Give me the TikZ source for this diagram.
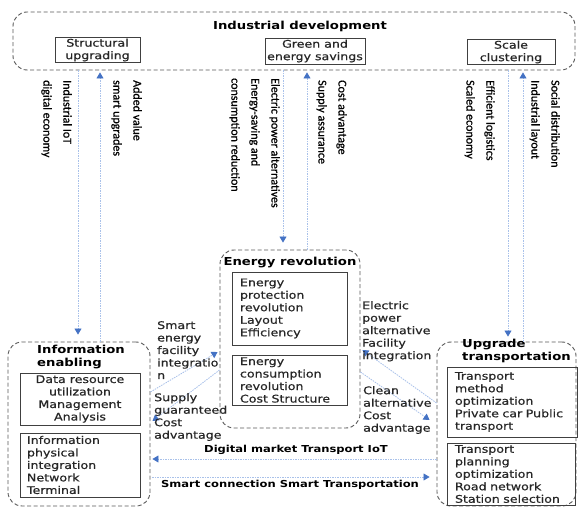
\documentclass[tikz,border=0pt]{standalone}
\usepackage{fontspec}
\setmainfont{DejaVu Sans}[FakeStretch=1.2, UprightFeatures={FakeBold=0.5}]
\newfontfamily\rotfont{Carlito}[FakeBold=0.6]
\usetikzlibrary{arrows.meta,calc}
\definecolor{dotblue}{HTML}{A9C1EA}
\definecolor{tipblue}{HTML}{4472C4}
\definecolor{dgray}{HTML}{595959}
\definecolor{bgray}{HTML}{404040}
\begin{document}
\begin{tikzpicture}[x=1pt,y=-1pt,
  dbox/.style={draw=dgray, dash pattern=on 4pt off 2.5pt, line width=0.9pt, rounded corners=14pt, inner sep=0pt},
  ibox/.style={draw=bgray, line width=0.9pt, inner sep=0pt},
  txt/.style={font=\fontsize{10.5}{12.5}\selectfont, text=black!85, inner sep=0pt, align=left},
  ttl/.style={font=\fontsize{11}{13}\selectfont\bfseries, inner sep=0pt, align=left},
  btl/.style={font=\fontsize{9.6}{11}\selectfont\bfseries, inner sep=0pt},
  rot/.style={font=\rotfont\fontsize{12}{20}\selectfont, rotate=-90, align=left, inner sep=0pt, anchor=north west},
  dl/.style={draw=dotblue, line width=0.8pt, dash pattern=on 1.5pt off 1pt, -{Triangle[color=tipblue,width=7pt,length=6pt]}}
]
\useasboundingbox (0,0) rectangle (578,510);
\fill[white] (0,0) rectangle (578,510);

% top container
\node[dbox, minimum width=562, minimum height=58] (top) at (294,41) {};
\node[ttl] (topt) at (300,26) {Industrial development};
\node[ibox, txt, align=center, minimum width=85, minimum height=25] (struct) at (97.5,50) {Structural\\upgrading};
\node[ibox, txt, align=center, minimum width=100, minimum height=26] (green) at (315,51) {Green and\\energy savings};
\node[ibox, txt, align=center, minimum width=88, minimum height=25] (scale) at (511,52) {Scale\\clustering};

% energy revolution
\node[dbox, minimum width=140, minimum height=178] (energy) at (290,339) {};
\node[ttl] (energyt) at (290,263) {Energy revolution};
\node[ibox, txt, text width=99pt, inner xsep=8pt, minimum height=73] (e1) at (289.5,308.5) {Energy\\protection\\revolution\\Layout\\Efficiency};
\node[ibox, txt, text width=99pt, inner xsep=8pt, minimum height=50] (e2) at (289.5,380) {Energy\\consumption\\revolution\\Cost Structure};

% information enabling
\node[dbox, minimum width=142, minimum height=164] (info) at (79,424) {};
\node[ttl, anchor=north west] (infot) at (37,345) {Information\\enabling};
\node[ibox, txt, align=center, minimum width=120, minimum height=52] (i1) at (80,399) {Data resource\\utilization\\Management\\Analysis};
\node[ibox, txt, text width=106pt, inner xsep=7pt, minimum height=64] (i2) at (80,465) {Information\\physical\\integration\\Network\\Terminal};

% upgrade transportation
\node[dbox, minimum width=139, minimum height=164] (upg) at (506.5,424) {};
\node[ttl, anchor=north west] (upgt) at (462,339) {Upgrade\\transportation};
\node[ibox, txt, text width=114pt, inner xsep=8pt, minimum height=70] (u1) at (512,402) {Transport\\method\\optimization\\Private car Public\\transport};
\node[ibox, txt, text width=112pt, inner xsep=8pt, minimum height=62] (u2) at (511,474) {Transport\\planning\\optimization\\Road network\\Station selection};

% vertical connectors
\draw[dl, shorten >=7pt] ([xshift=-1pt]info.north |- top.south) -- ([xshift=-1pt]info.north);
\draw[dl, shorten >=2pt] ([xshift=21pt]info.north) -- ([xshift=21pt]info.north |- top.south);
\draw[dl, shorten >=7pt] ([xshift=-7pt]energy.north |- top.south) -- ([xshift=-7pt]energy.north);
\draw[dl, shorten >=2pt] ([xshift=17pt]energy.north) -- ([xshift=17pt]energy.north |- top.south);
\draw[dl, shorten >=5pt] ([xshift=1.5pt]upg.north |- top.south) -- ([xshift=1.5pt]upg.north);
\draw[dl, shorten >=2pt] ([xshift=16.5pt]upg.north) -- ([xshift=16.5pt]upg.north |- top.south);

% rotated labels
\node[rot] (l1) at (72,80) {Industrial IoT\\digital economy};
\node[rot] (l2) at (142,80) {Added value\\smart upgrades};
\node[rot] (l3) at (280,78) {Electric power alternatives\\Energy-saving and\\consumption reduction};
\node[rot] (l4) at (347,80) {Cost advantage\\Supply assurance};
\node[rot] (l5) at (495,80) {Efficient logistics\\Scaled economy};
\node[rot] (l6) at (560,80) {Social distribution\\Industrial layout};

% diagonal connectors
\draw[dl] ($(info.east)+(0,-32)$) -- ($(energy.west)+(-2,13)$);
\draw[dl] ($(energy.west)+(0,31)$) -- ($(info.east)+(2,-3)$);
\draw[dl] ($(upg.west)+(0,-21)$) -- ($(energy.east)+(2,11)$);
\draw[dl] ($(energy.east)+(0,33)$) -- ($(upg.west)+(-7,-4)$);

% side labels
\node[txt, anchor=north west] (s1) at (157,321) {Smart\\energy\\facility\\integratio\\n};
\node[txt, anchor=north west] (s2) at (154,393) {Supply\\guaranteed\\Cost\\advantage};
\node[txt, anchor=north west] (s3) at (362,301) {Electric\\power\\alternative\\Facility\\integration};
\node[txt, anchor=north west] (s4) at (363,386) {Clean\\alternative\\Cost\\advantage};

% horizontal connectors
\draw[dl] ($(upg.west)+(0,35)$) -- ($(info.east)+(2,35)$);
\draw[dl] ($(info.east)+(2,53)$) -- ($(upg.west)+(-7,53)$);
\node[btl] (h1) at (296,450) {Digital market Transport IoT};
\node[btl] (h2) at (290,485) {Smart connection Smart Transportation};
\end{tikzpicture}
\end{document}
